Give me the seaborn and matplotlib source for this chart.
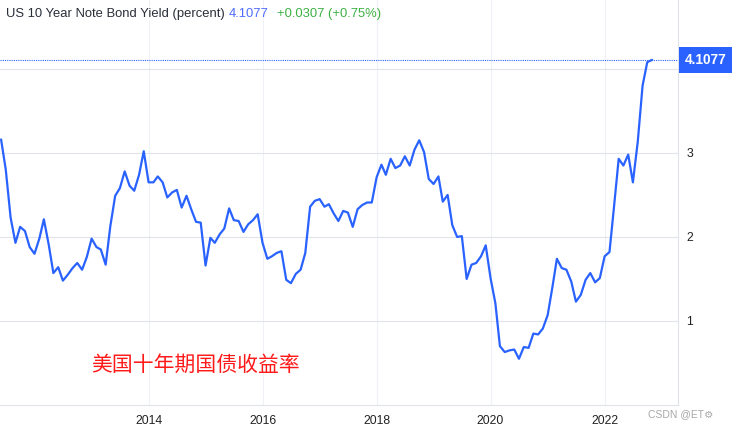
#! /usr/bin/env python3

import numpy as np
import pandas as pd

import matplotlib
matplotlib.use('Agg')
import matplotlib.pyplot as plt
import matplotlib.dates as mdates
import matplotlib.transforms as mtransforms

import seaborn as sns

# monthly US 10Y yield, Jun 2011 .. Nov 2022
start_month = '2011-06-01'
y2011 = [3.16, 2.80, 2.23, 1.93, 2.12, 2.07, 1.88]
y2012 = [1.80, 1.98, 2.21, 1.91, 1.57, 1.64, 1.48, 1.55, 1.63, 1.69, 1.61, 1.76]
y2013 = [1.98, 1.88, 1.85, 1.67, 2.13, 2.49, 2.58, 2.78, 2.61, 2.55, 2.74, 3.02]
y2014 = [2.65, 2.65, 2.72, 2.65, 2.47, 2.53, 2.56, 2.35, 2.49, 2.33, 2.18, 2.17]
y2015 = [1.66, 1.99, 1.93, 2.03, 2.10, 2.34, 2.20, 2.19, 2.06, 2.15, 2.20, 2.27]
y2016 = [1.93, 1.74, 1.77, 1.81, 1.83, 1.49, 1.45, 1.56, 1.61, 1.81, 2.36, 2.43]
y2017 = [2.45, 2.36, 2.39, 2.28, 2.19, 2.31, 2.29, 2.12, 2.33, 2.38, 2.41, 2.41]
y2018 = [2.71, 2.86, 2.74, 2.93, 2.82, 2.85, 2.96, 2.85, 3.04, 3.15, 3.01, 2.69]
y2019 = [2.63, 2.72, 2.42, 2.50, 2.14, 2.00, 2.01, 1.50, 1.67, 1.69, 1.77, 1.90]
y2020 = [1.51, 1.21, 0.70, 0.63, 0.65, 0.66, 0.55, 0.69, 0.68, 0.85, 0.84, 0.91]
y2021 = [1.07, 1.41, 1.74, 1.63, 1.61, 1.47, 1.23, 1.31, 1.49, 1.57, 1.46, 1.51]
y2022 = [1.77, 1.82, 2.34, 2.93, 2.85, 2.98, 2.65, 3.13, 3.80, 4.08, 4.1077]

last_value = 4.1077
change_text = '+0.0307 (+0.75%)'
title_text = 'US 10 Year Note Bond Yield (percent)'
cn_label = '美国十年期国债收益率'
year_ticks = [2014, 2016, 2018, 2020, 2022]
y_ticks = [1, 2, 3, 4]

LINE = '#2962ff'

if __name__ == '__main__':
    values = y2011 + y2012 + y2013 + y2014 + y2015 + y2016 + y2017 + \
        y2018 + y2019 + y2020 + y2021 + y2022
    dates = pd.date_range(start_month, periods=len(values), freq='MS')
    df = pd.DataFrame({'date': dates, 'yield': values})

    sns.set_style('white')
    plt.rcParams['font.family'] = ['Liberation Sans', 'DejaVu Sans']

    fig = plt.figure(figsize=(7.32, 4.29), dpi=100)
    ax = fig.add_axes([0, 24 / 429, 678 / 732, 405 / 429])

    sns.lineplot(data=df, x='date', y='yield', ax=ax, color=LINE, linewidth=1.6)

    ax.set_xlim(pd.Timestamp('2011-05-25'), pd.Timestamp('2023-04-16'))
    ax.set_ylim(0, 4.82)
    ax.set_xlabel('')
    ax.set_ylabel('')

    # grid
    ax.set_xticks([pd.Timestamp(f'{y}-01-01') for y in year_ticks])
    ax.xaxis.set_major_formatter(mdates.DateFormatter('%Y'))
    ax.set_yticks(y_ticks)
    ax.grid(axis='y', color='#e0e3eb', linewidth=0.8)
    ax.grid(axis='x', color='#eef1f6', linewidth=0.8)
    ax.set_axisbelow(True)

    ax.yaxis.tick_right()
    ax.tick_params(axis='y', length=0, pad=6, labelsize=8.8, labelcolor='#222222')
    ax.tick_params(axis='x', length=0, pad=7, labelsize=8.8, labelcolor='#222222')

    for side in ['left', 'top']:
        ax.spines[side].set_visible(False)
    for side in ['right', 'bottom']:
        ax.spines[side].set_color('#e0e3eb')
        ax.spines[side].set_linewidth(0.8)

    # dotted last value line
    ax.axhline(last_value, color=LINE, linestyle=(0, (1, 1)), linewidth=0.8)

    # last value box on the right axis
    trans = mtransforms.blended_transform_factory(fig.transFigure, ax.transData)
    ax.text(685 / 732, last_value, f'{last_value:.4f}', transform=trans,
            ha='left', va='center', color='white', fontsize=9.8, fontweight='bold',
            bbox=dict(boxstyle='square,pad=0.45', facecolor=LINE, edgecolor='none'),
            clip_on=False, zorder=10)

    # header
    t1 = ax.text(6 / 678, 1 - 14 / 405, title_text, transform=ax.transAxes,
                 ha='left', va='center', fontsize=9.4, color='#2a2e39',
                 bbox=dict(facecolor='white', edgecolor='none', pad=1))
    t2 = ax.annotate(f'{last_value:.4f}', xy=(1, 0), xycoords=t1,
                     xytext=(3, 0), textcoords='offset points',
                     ha='left', va='bottom', fontsize=9.4, color='#4f6bff')
    ax.annotate(change_text, xy=(1, 0), xycoords=t2,
                xytext=(6, 0), textcoords='offset points',
                ha='left', va='bottom', fontsize=9.4, color='#3cb043')

    # chinese label
    ax.text(91 / 678, 40 / 405, cn_label, transform=ax.transAxes,
            ha='left', va='center', fontsize=15, color='#ff1a1a',
            family=['Noto Sans CJK SC', 'DejaVu Sans'])

    # watermark
    fig.text(648 / 732, 1 - 414 / 429, 'CSDN @ET\u2699', ha='left', va='center',
             fontsize=7.5, color='#a8a8a8', family=['Liberation Sans', 'DejaVu Sans'])

    fig.savefig('out.png', dpi=100)
